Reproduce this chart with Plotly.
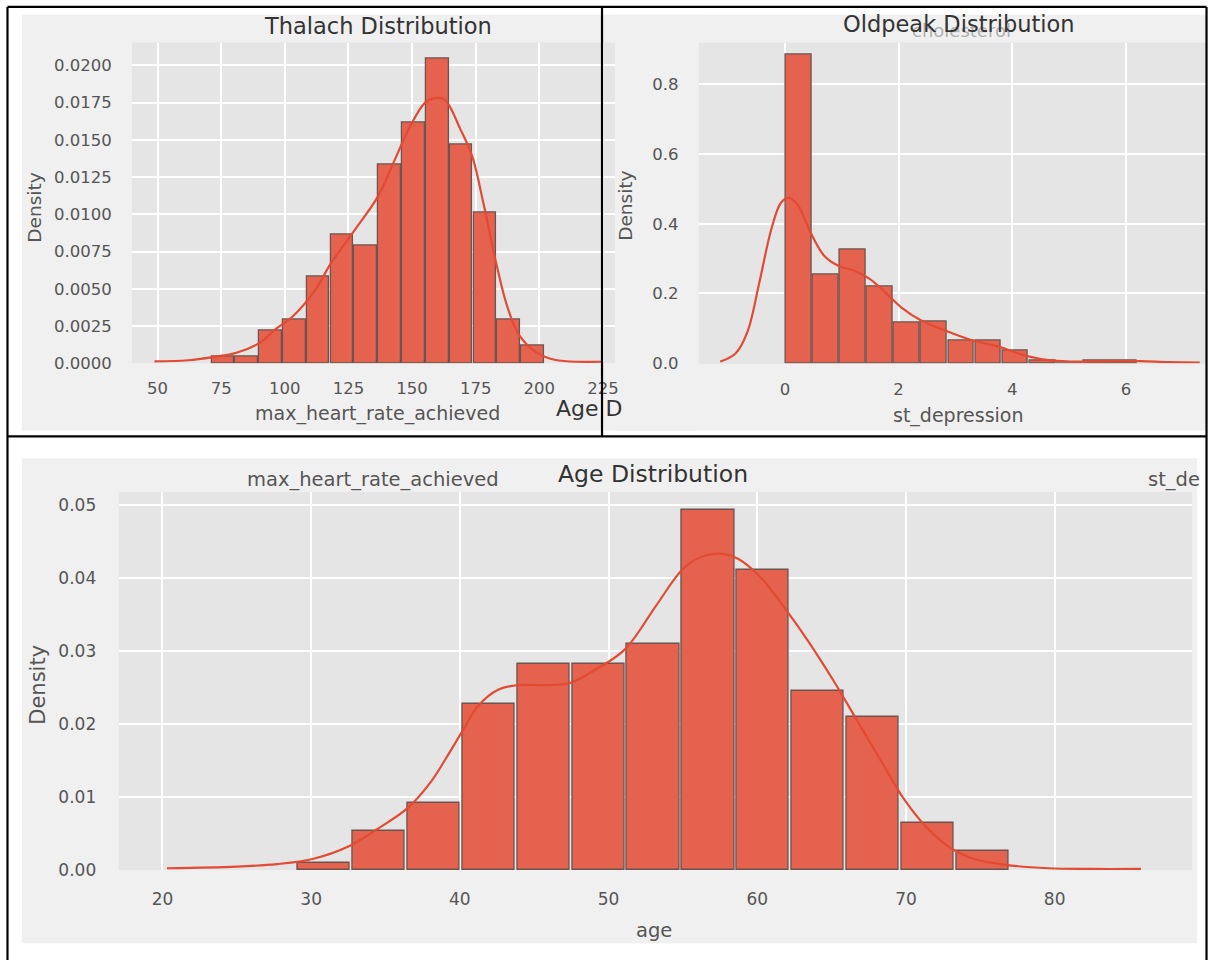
import plotly.graph_objects as go

W, H = 1217, 970

# ---------------- data ----------------
# Thalach (max heart rate) histogram: 14 bins from 71 to 202
thalach_edges_lo = 71.0
thalach_edges_hi = 202.0
thalach_nbins = 14
thalach_density = [0.00046, 0.00046, 0.00222, 0.00293, 0.00584, 0.00863, 0.00791,
                   0.01333, 0.01615, 0.02048, 0.01467, 0.01009, 0.00293, 0.00117]
thalach_kde_x = [48.8, 62, 72, 81, 90.4, 96.5, 103.5, 111.9, 118.1, 127.3, 136.6, 142.8,
                 148.9, 155.1, 158.9, 162.8, 169.0, 173.6, 178.2, 182.8, 187.4, 192.0,
                 198.2, 204.4, 210.6, 224.4]
thalach_kde_y = [0.00013, 0.0002, 0.00042, 0.0007, 0.0014, 0.0023, 0.0032, 0.0049, 0.0067,
                 0.0089, 0.0112, 0.0135, 0.0158, 0.0175, 0.0178, 0.0177, 0.0157, 0.0139,
                 0.0106, 0.0069, 0.0038, 0.0019, 0.0008, 0.0003, 0.00013, 0.0001]

# Oldpeak (st_depression) histogram: 13 bins from 0 to 6.2
oldpeak_lo = 0.0
oldpeak_hi = 6.2
oldpeak_nbins = 13
oldpeak_density = [0.886, 0.255, 0.327, 0.220, 0.116, 0.120, 0.0655, 0.0655, 0.035,
                   0.0076, 0.0, 0.0069, 0.0069]
oldpeak_kde_x = [-1.14, -0.87, -0.66, -0.45, -0.24, -0.07, 0.07, 0.24, 0.45, 0.69, 0.93,
                 1.21, 1.49, 1.76, 2.04, 2.39, 2.80, 3.29, 3.77, 4.19, 4.60, 5.02, 5.71,
                 6.26, 6.75, 7.30]
oldpeak_kde_y = [0.005, 0.028, 0.09, 0.232, 0.384, 0.46, 0.474, 0.45, 0.375, 0.308, 0.28,
                 0.266, 0.242, 0.204, 0.161, 0.123, 0.095, 0.066, 0.047, 0.024, 0.0095,
                 0.005, 0.006, 0.006, 0.003, 0.002]

# Age histogram: 13 bins from 29 to 77
age_lo = 29.0
age_hi = 77.0
age_nbins = 13
age_density = [0.0009, 0.00539, 0.00922, 0.02272, 0.02825, 0.02825, 0.0310, 0.0493,
               0.0411, 0.0245, 0.0210, 0.00645, 0.00263]
age_kde_x = [20.3, 25.0, 27.7, 30.1, 32.5, 34.6, 36.5, 38.1, 39.1, 40.2, 41.2, 42.6, 43.9,
             45.8, 47.4, 49.1, 51.1, 53.2, 55.0, 56.3, 57.5, 58.7, 60.3, 61.9, 63.5, 65.1,
             66.7, 68.3, 69.8, 71.4, 73.0, 74.6, 76.7, 79.6, 82.3, 85.8]
age_kde_y = [0.00023, 0.00046, 0.0008, 0.0015, 0.0032, 0.0058, 0.0085, 0.0122, 0.0154,
             0.0191, 0.0224, 0.0247, 0.0253, 0.0253, 0.0256, 0.0274, 0.0302, 0.0362, 0.0412,
             0.0429, 0.0433, 0.0426, 0.0399, 0.0357, 0.0311, 0.0260, 0.0205, 0.0150, 0.0099,
             0.0058, 0.0030, 0.0015, 0.0007, 0.00023, 0.00014, 0.00014]

thalach_ticks = [50, 75, 100, 125, 150, 175, 200, 225]
oldpeak_ticks = [0, 2, 4, 6]
age_ticks = [20, 30, 40, 50, 60, 70, 80]
thalach_yticks = [0, 0.0025, 0.005, 0.0075, 0.01, 0.0125, 0.015, 0.0175, 0.02]
oldpeak_yticks = [0, 0.2, 0.4, 0.6, 0.8]
age_yticks = [0, 0.01, 0.02, 0.03, 0.04, 0.05]

# ---------------- style ----------------
BAR_FILL = "#E5624E"
BAR_EDGE = "#6a5550"
KDE = "#E24A33"
FONT = "DejaVu Sans"
TICK_C = "#555555"
TITLE_C = "#333333"
PANEL = "#f0f0f0"
PLOTBG = "#e5e5e5"


def fx(px):
    return px / W


def fy(py):
    return 1 - py / H


def centers(lo, hi, n):
    w = (hi - lo) / n
    return [lo + w * (i + 0.5) for i in range(n)], w


fig = go.Figure()

specs = [
    ("x", "y", thalach_edges_lo, thalach_edges_hi, thalach_nbins, thalach_density,
     thalach_kde_x, thalach_kde_y),
    ("x2", "y2", oldpeak_lo, oldpeak_hi, oldpeak_nbins, oldpeak_density,
     oldpeak_kde_x, oldpeak_kde_y),
    ("x3", "y3", age_lo, age_hi, age_nbins, age_density, age_kde_x, age_kde_y),
]
for xa, ya, lo, hi, n, dens, kx, ky in specs:
    cx, w = centers(lo, hi, n)
    fig.add_trace(go.Bar(x=cx, y=dens, width=w * 0.95, xaxis=xa, yaxis=ya,
                         marker=dict(color=BAR_FILL, line=dict(color=BAR_EDGE, width=1.3)),
                         showlegend=False, hoverinfo="skip"))
    fig.add_trace(go.Scatter(x=kx, y=ky, mode="lines", xaxis=xa, yaxis=ya,
                             line=dict(color=KDE, width=2.2, shape="spline", smoothing=1.0),
                             showlegend=False, hoverinfo="skip"))

common = dict(showgrid=True, gridcolor="white", gridwidth=1.6, zeroline=False,
              showline=False, ticks="outside", tickcolor="rgba(0,0,0,0)")
tf_top = dict(family=FONT, size=16.5, color=TICK_C)
tf_bot = dict(family=FONT, size=17, color=TICK_C)

top_dom = [fy(367), fy(43)]
fig.update_layout(
    width=W, height=H,
    margin=dict(l=0, r=0, t=0, b=0),
    paper_bgcolor="white",
    plot_bgcolor="rgba(0,0,0,0)",
    bargap=0,
    xaxis=dict(common, tickfont=tf_top, domain=[fx(132.5), fx(617)], range=[40.0, 229.7],
               tickvals=thalach_ticks, ticklen=10, anchor="y"),
    yaxis=dict(common, tickfont=tf_top, domain=top_dom, range=[0, 0.02153],
               tickvals=thalach_yticks, tickformat=".4f", ticklen=16, anchor="x"),
    xaxis2=dict(common, tickfont=tf_top, domain=[fx(701), fx(1210)], range=[-1.518, 7.41],
                tickvals=oldpeak_ticks, ticklen=11, anchor="y2"),
    yaxis2=dict(common, tickfont=tf_top, domain=top_dom, range=[0, 0.9195],
                tickvals=oldpeak_yticks, tickformat=".1f", ticklen=16, anchor="x2"),
    xaxis3=dict(common, tickfont=tf_bot, domain=[fx(119), fx(1196)], range=[17.05, 89.24],
                tickvals=age_ticks, ticklen=14, anchor="y3"),
    yaxis3=dict(common, tickfont=tf_bot, domain=[fy(879), fy(497)], range=[0, 0.05176],
                tickvals=age_yticks, tickformat=".2f", ticklen=18, anchor="x3"),
)

shapes = []
# panel backgrounds
for x0, y0, x1, y1 in [(22, 15, 605, 435), (605, 15, 1210, 435), (22, 463, 1201, 953)]:
    shapes.append(dict(type="rect", xref="paper", yref="paper", x0=fx(x0), x1=fx(x1),
                       y0=fy(y1), y1=fy(y0), fillcolor=PANEL, line=dict(width=0),
                       layer="below"))
# plot backgrounds
for x0, y0, x1, y1 in [(132.5, 43, 617, 367), (701, 43, 1210, 368), (119, 497, 1196, 879)]:
    shapes.append(dict(type="rect", xref="paper", yref="paper", x0=fx(x0), x1=fx(x1),
                       y0=fy(y1), y1=fy(y0), fillcolor=PLOTBG, line=dict(width=0),
                       layer="below"))
# top-right panel covering strip right of 617
shapes.append(dict(type="rect", xref="paper", yref="paper", x0=fx(617), x1=fx(701),
                   y0=fy(435), y1=fy(15), fillcolor=PANEL, line=dict(width=0),
                   layer="below"))
# black frame lines
for x0, y0, x1, y1 in [(7.5, 7, 7.5, 970), (7.5, 7, 1210.5, 7), (1210.5, 7, 1210.5, 970),
                       (7.5, 441, 1210.5, 441), (604, 7, 604, 441)]:
    shapes.append(dict(type="line", xref="paper", yref="paper", x0=fx(x0), x1=fx(x1),
                       y0=fy(y0), y1=fy(y1), line=dict(color="black", width=2.2),
                       layer="above"))
fig.update_layout(shapes=shapes)


def ann(text, x, y, size, color, xanchor="center", angle=0):
    return dict(text=text, x=fx(x), y=fy(y), xref="paper", yref="paper", showarrow=False,
                xanchor=xanchor, yanchor="middle", textangle=angle,
                font=dict(family=FONT, size=size, color=color))


annotations = [
    ann("cholesterol", 965, 31, 18, "rgba(120,120,120,0.55)"),
    ann("Thalach Distribution", 379, 26, 22.5, TITLE_C),
    ann("max_heart_rate_achieved", 379, 418, 19, TICK_C),
    ann("Density", 35, 210, 18.5, TICK_C, angle=-90),
    ann("Age D", 556, 413, 22, TITLE_C, xanchor="left"),
    ann("Oldpeak Distribution", 962, 24, 22.5, TITLE_C),
    ann("st_depression", 962, 420, 19, TICK_C),
    ann("Density", 628, 208, 18.5, TICK_C, angle=-90),
    ann("max_heart_rate_achieved", 374, 484, 19.5, TICK_C),
    ann("st_de", 1150, 484, 19.5, TICK_C, xanchor="left"),
    ann("Age Distribution", 655, 479, 23.5, TITLE_C),
    ann("age", 656, 940, 19.5, TICK_C),
    ann("Density", 38, 692, 21, TICK_C, angle=-90),
]
fig.update_layout(annotations=annotations)

fig.write_html("out.html", config={"displayModeBar": False},
               post_script="document.body.style.margin='0';")
